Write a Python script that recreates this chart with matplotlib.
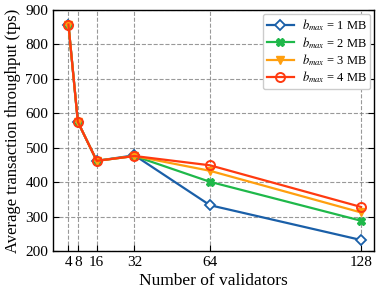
import matplotlib.pyplot as plt

plt.rcParams['font.family'] = ['Liberation Serif', 'DejaVu Serif']
plt.rcParams['mathtext.fontset'] = 'stix'

validators = [4, 8, 16, 32, 64, 128]
tput_1mb = [858, 575, 462, 478, 333, 232]
tput_2mb = [858, 575, 462, 476, 401, 288]
tput_3mb = [858, 575, 462, 476, 433, 312]
tput_4mb = [858, 575, 462, 476, 449, 328]

fig = plt.figure(figsize=(3.82, 2.96), dpi=100)
ax = fig.add_axes([0.139, 0.152, 0.840, 0.814])

ax.plot(validators, tput_1mb, marker='D', color='#1a5fa8', markerfacecolor='white',
        markersize=5, markeredgewidth=1.3, linewidth=1.6, label=r'$b_{max}$ = 1 MB')
ax.plot(validators, tput_2mb, marker='X', color='#1fb84a',
        markersize=6, linewidth=1.6, label=r'$b_{max}$ = 2 MB')
ax.plot(validators, tput_3mb, marker='v', color='#ff9f0f',
        markersize=6, linewidth=1.6, label=r'$b_{max}$ = 3 MB')
ax.plot(validators, tput_4mb, marker='o', color='#ff3a10', fillstyle='none',
        markersize=6.5, markeredgewidth=1.4, linewidth=1.6, label=r'$b_{max}$ = 4 MB')

ax.set_xlim(-2.5, 133.5)
ax.set_ylim(200, 900)
ax.set_xticks(validators)
ax.set_yticks(range(200, 901, 100))
ax.tick_params(direction='in', top=False, right=True, labelsize=11, length=4)
ax.grid(True, linestyle='--', color='gray', linewidth=0.8, alpha=0.8)
for s in ax.spines.values():
    s.set_linewidth(1.0)

ax.set_xlabel('Number of validators', fontsize=12.5, labelpad=3)
ax.set_ylabel('Average transaction throughput (tps)', fontsize=12, labelpad=3)
ax.legend(loc='upper right', fontsize=9, handlelength=2.2, borderaxespad=0.3,
          labelspacing=0.12, borderpad=0.3, handletextpad=0.6,
          framealpha=1, edgecolor='#cccccc')

fig.savefig('out.png', dpi=100)
